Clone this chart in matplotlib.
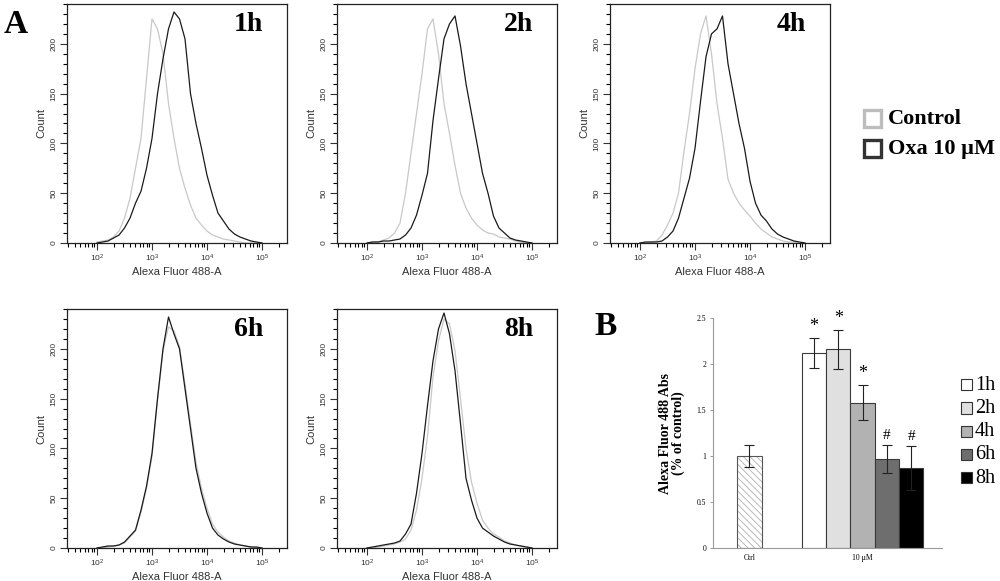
import numpy as np
import matplotlib
matplotlib.use('Agg')
from matplotlib import pyplot as plt
from matplotlib.patches import Rectangle
from matplotlib.ticker import LogLocator, MultipleLocator, FixedLocator

# histogram bin centres (log10 of Alexa Fluor 488-A)
log_x = [2.0, 2.1, 2.2, 2.3, 2.4, 2.5, 2.6, 2.7, 2.8, 2.9,
         3.0, 3.1, 3.2, 3.3, 3.4, 3.5, 3.6, 3.7, 3.8, 3.9,
         4.0, 4.1, 4.2, 4.3, 4.4, 4.5, 4.6, 4.7, 4.8, 4.9, 5.0]

ctrl_1h = [1, 2, 3, 6, 12, 25, 45, 75, 105, 165, 225, 215, 190, 140, 105, 75,
           55, 38, 25, 18, 12, 8, 6, 4, 3, 2, 1, 0, 0, 0, 0]
oxa_1h = [0, 1, 2, 5, 8, 15, 25, 40, 52, 75, 105, 150, 185, 215, 232, 225,
          205, 150, 120, 95, 68, 48, 30, 22, 14, 9, 6, 4, 2, 1, 0]
ctrl_2h = [0, 1, 1, 3, 5, 10, 20, 50, 90, 130, 170, 215, 225, 190, 140, 110,
           78, 50, 35, 25, 18, 13, 10, 9, 6, 5, 4, 2, 1, 0, 0]
oxa_2h = [0, 1, 1, 2, 2, 3, 4, 8, 15, 28, 48, 70, 123, 165, 205, 220,
          228, 198, 160, 130, 100, 70, 50, 27, 15, 10, 5, 3, 2, 1, 0]
ctrl_4h = [0, 0, 1, 2, 8, 18, 30, 50, 92, 130, 175, 210, 228, 190, 140, 105,
           64, 50, 40, 33, 27, 20, 14, 10, 6, 4, 2, 1, 1, 0, 0]
oxa_4h = [0, 1, 1, 1, 2, 6, 12, 25, 45, 65, 95, 142, 187, 210, 215, 228,
          180, 150, 120, 95, 62, 40, 28, 22, 14, 9, 6, 4, 2, 1, 0]
ctrl_6h = [0, 0, 1, 2, 3, 5, 11, 17, 36, 60, 92, 148, 198, 222, 218, 202,
           165, 125, 86, 60, 40, 24, 16, 11, 7, 5, 3, 2, 1, 0, 0]
oxa_6h = [0, 1, 2, 2, 3, 6, 12, 18, 38, 62, 95, 150, 200, 232, 215, 200,
          160, 120, 80, 55, 35, 20, 13, 9, 6, 4, 3, 2, 1, 1, 0]
ctrl_8h = [0, 0, 1, 2, 3, 4, 6, 9, 18, 38, 70, 112, 172, 208, 230, 225,
           198, 150, 100, 66, 45, 28, 20, 14, 11, 7, 5, 3, 2, 1, 0]
oxa_8h = [0, 1, 2, 3, 4, 5, 7, 14, 24, 55, 95, 143, 188, 220, 236, 215,
          178, 125, 70, 48, 30, 20, 16, 12, 9, 6, 4, 3, 2, 1, 0]

hist_titles = ['1h', '2h', '4h', '6h', '8h']
hist_ctrl = [ctrl_1h, ctrl_2h, ctrl_4h, ctrl_6h, ctrl_8h]
hist_oxa = [oxa_1h, oxa_2h, oxa_4h, oxa_6h, oxa_8h]

# panel B
bar_labels = ['Ctrl', '1h', '2h', '4h', '6h', '8h']
bar_means = [1.00, 2.12, 2.16, 1.58, 0.97, 0.87]
bar_errs = [0.12, 0.16, 0.21, 0.19, 0.15, 0.24]
bar_marks = ['', '*', '*', '*', '#', '#']

serif = 'Liberation Serif'
sans = 'Liberation Sans'

fig = plt.figure(figsize=(10, 5.81), dpi=100)

# axes positions in pixels (left, top) -> all 220 x 239
pos = [(67, 4), (337, 4), (610, 4), (67, 309), (337, 309)]
xs = 10 ** np.array(log_x)

for i in range(5):
    l, t = pos[i]
    ax = fig.add_axes([l / 1000, 1 - (t + 239) / 581, 220 / 1000, 239 / 581])
    ax.plot(xs, hist_ctrl[i], color='#c8c8c8', lw=0.9)
    ax.plot(xs, hist_oxa[i], color='#1a1a1a', lw=0.9)
    ax.set_xscale('log')
    ax.set_xlim(10 ** 1.4545, 10 ** 5.4545)
    ax.set_ylim(0, 240)
    ax.yaxis.set_major_locator(FixedLocator([0, 50, 100, 150, 200]))
    ax.yaxis.set_minor_locator(MultipleLocator(10))
    ax.xaxis.set_major_locator(LogLocator(base=10, numticks=10))
    ax.xaxis.set_minor_locator(LogLocator(base=10, subs=np.arange(2, 10), numticks=20))
    ax.tick_params(which='major', length=5, width=0.8, labelsize=6, pad=2, colors='#333333')
    ax.tick_params(which='minor', length=3, width=0.8)
    for lab in ax.get_yticklabels():
        lab.set_rotation(90)
        lab.set_va('center')
        lab.set_family(sans)
    for lab in ax.get_xticklabels():
        lab.set_family(sans)
    for sp in ax.spines.values():
        sp.set_linewidth(0.9)
        sp.set_color('#222222')
    ax.set_ylabel('Count', fontsize=8, family=sans, color='#333333', labelpad=3)
    ax.set_xlabel('Alexa Fluor 488-A', fontsize=8, family=sans, color='#333333', labelpad=2)
    ax.text(0.89, 0.965, hist_titles[i], transform=ax.transAxes, ha='right', va='top',
            fontsize=20, fontweight='bold', family=serif)

fig.text(0.004, 0.985, 'A', fontsize=24, fontweight='bold', family=serif, va='top')
fig.text(0.594, 0.465, 'B', fontsize=24, fontweight='bold', family=serif, va='top')

# legend for flow panels
for j, (lab, col) in enumerate([('Control', '#bdbdbd'), ('Oxa 10 \u00b5M', '#333333')]):
    y = 1 - (119 + 30 * j) / 581
    fig.add_artist(Rectangle((0.864, y - 0.014), 0.017, 0.029, transform=fig.transFigure,
                             facecolor='white', edgecolor=col, lw=2.4))
    fig.text(0.888, y, lab, fontsize=16, fontweight='bold', family=serif, va='center')

# panel B bar chart
axb = fig.add_axes([0.713, 1 - 548 / 581, 0.229, 230 / 581])
bx = [0, 2.65, 3.65, 4.65, 5.65, 6.65]
bcol = ['white', 'white', '#e0e0e0', '#b2b2b2', '#6e6e6e', '#000000']
plt.rcParams['hatch.linewidth'] = 0.6
axb.bar(bx[0], bar_means[0], width=1, color='white', edgecolor='#b0b0b0', hatch='\\\\\\\\\\', lw=0)
axb.bar(bx[0], bar_means[0], width=1, color='none', edgecolor='#555555', lw=0.8)
axb.bar(bx[1:], bar_means[1:], width=1, color=bcol[1:], edgecolor='#3a3a3a', lw=0.8)
axb.errorbar(bx, bar_means, yerr=bar_errs, fmt='none', ecolor='#222222', elinewidth=0.8,
             capsize=3.5, capthick=0.8)
for k in range(6):
    if bar_marks[k]:
        axb.text(bx[k], bar_means[k] + bar_errs[k] + 0.03, bar_marks[k], ha='center', va='bottom',
                 fontsize=13 if bar_marks[k] == '*' else 11, family=serif)
axb.set_xlim(-1.5, 7.92)
axb.set_ylim(0, 2.5)
axb.set_xticks([0, 4.65])
axb.set_xticklabels(['Ctrl', '10 \u00b5M'], fontsize=5.5, family=serif)
axb.set_yticks([0, 0.5, 1, 1.5, 2, 2.5])
axb.set_yticklabels(['0', '0.5', '1', '1.5', '2', '2.5'], fontsize=5.5, family=serif)
axb.tick_params(axis='x', length=0, pad=4)
axb.tick_params(axis='y', length=2, width=0.6, pad=3, color='#888888')
for s in ['top', 'right']:
    axb.spines[s].set_visible(False)
for s in ['left', 'bottom']:
    axb.spines[s].set_color('#999999')
    axb.spines[s].set_linewidth(0.8)
axb.set_ylabel('Alexa Fluor 488 Abs\n(% of control)', fontsize=10, fontweight='bold',
               family=serif, labelpad=8, linespacing=1.0)
fig.text(0.657, 1 - 408 / 581, '1', fontsize=4, color='#999999', family=serif, ha='center', va='center')

# legend for bars
for k in range(1, 6):
    y = 1 - (385 + 23.3 * (k - 1)) / 581
    fig.add_artist(Rectangle((0.961, y - 0.009), 0.011, 0.019, transform=fig.transFigure,
                             facecolor=bcol[k], edgecolor='#333333', lw=0.8))
    fig.text(0.975, y, bar_labels[k], fontsize=14.5, family=serif, va='center')

plt.savefig('out.png', dpi=100)
